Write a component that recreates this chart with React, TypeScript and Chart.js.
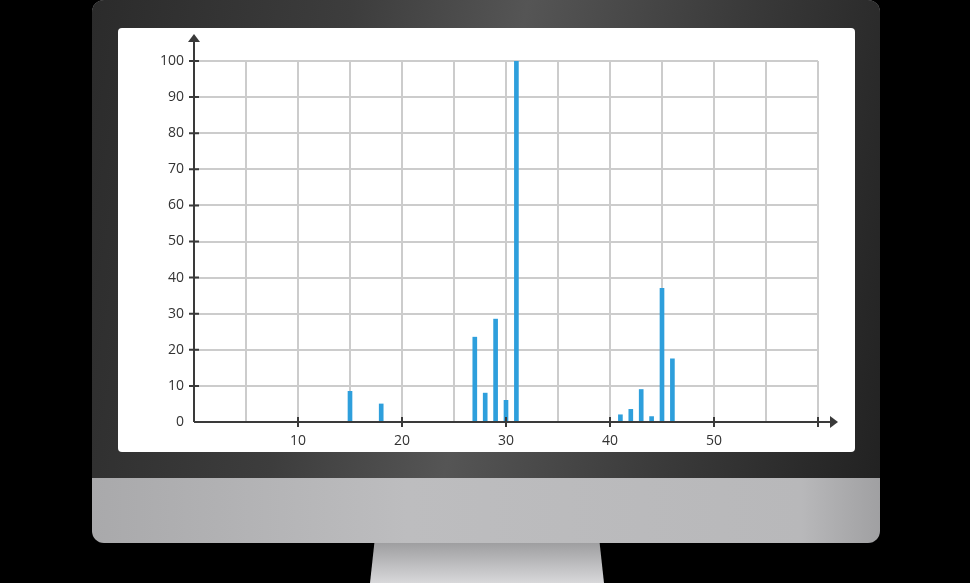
import { useEffect, useRef } from 'react';
import { Chart, registerables } from 'chart.js';

Chart.register(...registerables);

const positions = [15, 18, 27, 28, 29, 30, 31, 41, 42, 43, 44, 45, 46];
const values = [8.5, 5, 23.5, 8, 28.5, 6, 100, 2, 3.5, 9, 1.5, 37, 17.5];
const xTickMarks = [10, 20, 30, 40, 50, 60];

const axisPlugin = {
  id: 'axes',
  afterDraw(chart: any) {
    const { ctx, chartArea } = chart;
    const x = chart.scales.x;
    const y = chart.scales.y;
    const x0 = x.getPixelForValue(0);
    const y0 = y.getPixelForValue(0);
    ctx.save();
    ctx.strokeStyle = '#3a3a3a';
    ctx.fillStyle = '#3a3a3a';
    ctx.lineWidth = 2;
    ctx.beginPath();
    ctx.moveTo(x0, y0);
    ctx.lineTo(chartArea.right + 14, y0);
    ctx.moveTo(x0, y0);
    ctx.lineTo(x0, chartArea.top - 20);
    ctx.stroke();
    // arrows
    ctx.beginPath();
    ctx.moveTo(chartArea.right + 20, y0);
    ctx.lineTo(chartArea.right + 12, y0 - 6);
    ctx.lineTo(chartArea.right + 12, y0 + 6);
    ctx.closePath();
    ctx.fill();
    ctx.beginPath();
    ctx.moveTo(x0, chartArea.top - 27);
    ctx.lineTo(x0 - 6, chartArea.top - 19);
    ctx.lineTo(x0 + 6, chartArea.top - 19);
    ctx.closePath();
    ctx.fill();
    ctx.beginPath();
    for (const t of xTickMarks) {
      const px = x.getPixelForValue(t);
      ctx.moveTo(px, y0 - 5);
      ctx.lineTo(px, y0 + 5);
    }
    for (let v = 10; v <= 100; v += 10) {
      const py = y.getPixelForValue(v);
      ctx.moveTo(x0 - 5, py);
      ctx.lineTo(x0 + 5, py);
    }
    ctx.stroke();
    ctx.restore();
  },
};

function ChartView() {
  const ref = useRef<HTMLCanvasElement>(null);
  useEffect(() => {
    if (!ref.current) return;
    const chart = new Chart(ref.current, {
      type: 'bar',
      data: {
        datasets: [{
          data: positions.map((p, i) => ({ x: p, y: values[i] })),
          backgroundColor: '#2e9fdc',
          barThickness: 4,
        }],
      },
      options: {
        animation: false,
        responsive: false,
        layout: { padding: { top: 33, right: 37 } },
        plugins: { legend: { display: false }, tooltip: { enabled: false } },
        scales: {
          x: {
            type: 'linear',
            min: 0,
            max: 60,
            offset: false,
            afterFit: (s: any) => { s.height = 30; },
            ticks: {
              stepSize: 5,
              color: '#333',
              font: { family: 'Open Sans', size: 14 },
              padding: 11,
              callback: (v: any) => (v % 10 === 0 && v > 0 && v < 60 ? String(v) : ''),
            },
            grid: { color: '#cccccc', lineWidth: 2, drawTicks: false, offset: false },
            border: { display: false },
          },
          y: {
            min: 0,
            max: 100,
            afterFit: (s: any) => { s.width = 76; },
            ticks: {
              stepSize: 10,
              color: '#333',
              font: { family: 'Open Sans', size: 14 },
              padding: 10,
            },
            grid: { color: '#cccccc', lineWidth: 2, drawTicks: false },
            border: { display: false },
          },
        },
      },
      plugins: [axisPlugin],
    });
    return () => chart.destroy();
  }, []);
  return <canvas ref={ref} width={737} height={424} style={{ position: 'absolute', left: 118, top: 28 }} />;
}

export default function App() {
  return (
    <div style={{ position: 'fixed', inset: 0, background: '#000', overflow: 'hidden' }}>
      <div style={{ position: 'absolute', left: 370, top: 540, width: 234, height: 43, background: 'linear-gradient(#9a9a9c, #d8d8da)', clipPath: 'polygon(2% 0, 98% 0, 100% 100%, 0 100%)' }} />
      <div style={{ position: 'absolute', left: 92, top: 0, width: 788, height: 543, borderRadius: 12, background: 'linear-gradient(90deg,#a9a9ab,#bdbdbf 40%,#b8b8ba 90%,#a0a0a2)' }} />
      <div style={{ position: 'absolute', left: 92, top: 0, width: 788, height: 478, borderRadius: '12px 12px 0 0', background: 'linear-gradient(100deg,#2b2b2b 0%,#3d3d3d 30%,#555 50%,#3a3a3a 75%,#222 100%)' }} />
      <div style={{ position: 'absolute', left: 118, top: 28, width: 737, height: 424, borderRadius: 4, background: '#fff' }} />
      <ChartView />
    </div>
  );
}
